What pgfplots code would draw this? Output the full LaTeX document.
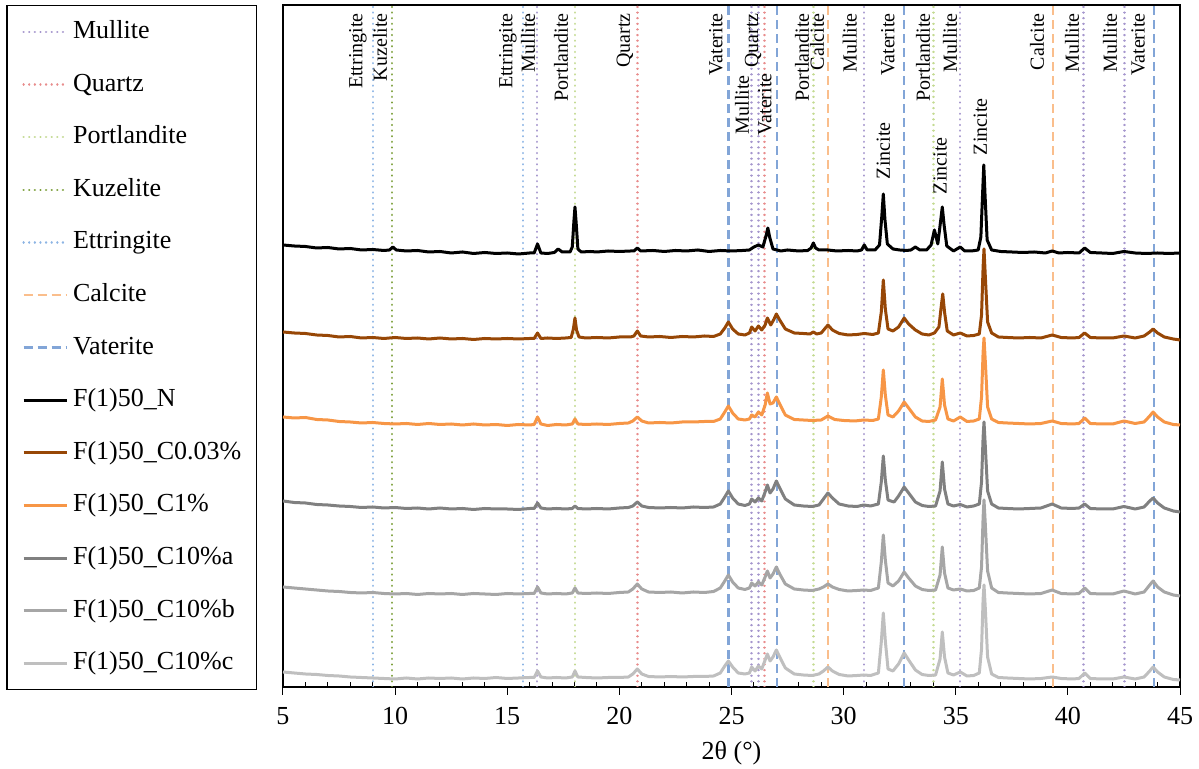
\documentclass[border=0pt]{standalone}
\usepackage{fontspec}
\setmainfont{Liberation Serif}
\usepackage{pgfplots}
\pgfplotsset{compat=1.18}
\definecolor{cMul}{RGB}{165,150,205}
\definecolor{cQua}{RGB}{232,140,140}
\definecolor{cPor}{RGB}{195,218,145}
\definecolor{cKuz}{RGB}{125,160,60}
\definecolor{cEtt}{RGB}{140,180,228}
\definecolor{cCal}{RGB}{250,190,140}
\definecolor{cVat}{RGB}{130,165,215}
\definecolor{cN}{RGB}{0,0,0}
\definecolor{cB}{RGB}{151,71,6}
\definecolor{cO}{RGB}{247,150,70}
\definecolor{cGa}{RGB}{128,128,128}
\definecolor{cGb}{RGB}{166,166,166}
\definecolor{cGc}{RGB}{191,191,191}
\tikzset{
  dotl/.style={line width=1.2pt, line cap=round, dash pattern=on 0.01pt off 2.8pt},
  dashl/.style={line width=1.2pt, dash pattern=on 4.5pt off 2.5pt},
  xrd/.style={line width=1.5pt, line join=round},
  lab/.style={rotate=90, anchor=east, inner sep=0pt, font=\fontsize{10}{12}\selectfont}
}
\begin{document}
\begin{tikzpicture}
\begin{axis}[
  scale only axis, width=448.5pt, height=341pt,
  xmin=5, xmax=45, ymin=0, ymax=682,
  xtick={5,10,...,45}, minor x tick num=4,
  ytick=\empty,
  xtick pos=lower, tick align=inside,
  major tick length=4pt, minor tick length=2.5pt,
  tick style={black, line width=0.5pt},
  major x tick style={yshift=-4pt},
  axis line style={line width=0.6pt},
  xlabel={2θ (°)},
  label style={font=\fontsize{13}{15}\selectfont},
  xlabel style={yshift=-1.5pt},
  ticklabel style={font=\fontsize{13}{15}\selectfont},
  xticklabel style={yshift=-6.5pt},
  /pgf/number format/assume math mode=true,
  unbounded coords=jump,
  no markers,
  legend cell align=left,
  legend image code/.code={\draw[#1] (0pt,0pt) -- (21.5pt,0pt);},
  legend style={at={(-0.029,1)}, anchor=north east, draw=black, line width=0.6pt,
    font=\fontsize{13}{15}\selectfont, inner xsep=7.5pt, inner ysep=7pt,
    row sep=13.8pt, column sep=2.5pt,
    nodes={inner sep=0pt, text height=9.5pt, text depth=3pt}},
]
% reference lines
\addplot[cMul, dotl] coordinates {(16.33,0) (16.33,682) (16.33,nan) (25.89,0) (25.89,682) (25.89,nan) (26.20,0) (26.20,682) (26.20,nan) (30.92,0) (30.92,682) (30.92,nan) (35.19,0) (35.19,682) (35.19,nan) (40.70,0) (40.70,682) (40.70,nan) (42.52,0) (42.52,682)};
\addlegendentry{Mullite}
\addplot[cQua, dotl] coordinates {(20.81,0) (20.81,682) (20.81,nan) (26.48,0) (26.48,682)};
\addlegendentry{Quartz}
\addplot[cPor, dotl] coordinates {(18.02,0) (18.02,682) (18.02,nan) (28.66,0) (28.66,682) (28.66,nan) (34.01,0) (34.01,682)};
\addlegendentry{Portlandite}
\addplot[cKuz, dotl] coordinates {(9.87,0) (9.87,682)};
\addlegendentry{Kuzelite}
\addplot[cEtt, dotl] coordinates {(9.02,0) (9.02,682) (9.02,nan) (15.71,0) (15.71,682)};
\addlegendentry{Ettringite}
\addplot[cCal, dashl] coordinates {(29.30,0) (29.30,682) (29.30,nan) (39.34,0) (39.34,682)};
\addlegendentry{Calcite}
\addplot[cVat, dashl] coordinates {(24.86,0) (24.86,682) (24.86,nan) (27.04,0) (27.04,682) (27.04,nan) (32.70,0) (32.70,682) (32.70,nan) (43.83,0) (43.83,682)};
\addlegendentry{Vaterite}
% F(1)50_N
\addplot[cN, xrd] coordinates {(5.0,442) (5.5,441) (6.0,440.5) (6.5,439) (7.0,439.5) (7.5,438) (8.0,438.5) (8.5,437) (9.0,437.5) (9.5,436.5) (9.75,437) (9.9,440) (10.05,437) (10.5,436) (11.0,436.5) (11.5,435) (12.0,435.5) (12.5,434) (13.0,435) (13.5,433.5) (14.0,434.5) (14.5,433.5) (15.0,434) (15.5,433) (16.0,434) (16.2,434) (16.35,443) (16.5,434) (16.8,433.5) (17.1,434.5) (17.27,438) (17.45,435) (17.8,435) (17.9,440) (17.97,465) (18.02,480) (18.08,462) (18.15,438) (18.3,435) (18.7,435.5) (19.0,435) (19.5,436) (20.0,435.5) (20.5,436) (20.65,436) (20.8,439) (20.95,436) (21.5,436.5) (22.0,435.5) (22.5,436.5) (23.0,436) (23.5,437) (24.0,435.5) (24.5,436.5) (25.0,436) (25.5,436.5) (25.8,437) (26.0,440) (26.2,442) (26.4,440) (26.55,452) (26.62,459) (26.7,450) (26.85,438) (27.2,436) (27.5,437) (28.0,436) (28.4,436.5) (28.55,439) (28.65,444) (28.75,439) (28.9,437) (29.3,437) (29.7,436) (30.2,436.5) (30.6,436) (30.8,437) (30.92,442) (31.05,437) (31.4,437) (31.6,442) (31.7,470) (31.77,493) (31.84,468) (31.95,443) (32.2,438) (32.5,437) (32.8,436.5) (33.0,437) (33.2,440) (33.4,437) (33.7,437) (33.9,442) (34.05,457) (34.2,443) (34.32,465) (34.4,480) (34.48,462) (34.6,441) (34.9,436) (35.2,440) (35.4,436) (35.7,436) (36.0,437) (36.12,450) (36.2,495) (36.25,522) (36.31,490) (36.4,447) (36.6,437) (37.0,435.5) (37.5,435) (38.0,434.5) (38.5,435) (39.0,434) (39.3,436) (39.6,434) (40.0,434.5) (40.5,434) (40.75,439) (41.0,434.5) (41.5,434) (42.0,433.5) (42.5,435.5) (43.0,434) (43.5,433.5) (44.0,434) (44.5,433.5) (45.0,434)};
\addlegendentry{F(1)50\_N}
% F(1)50_C0.03%
\addplot[cB, xrd] coordinates {(5.0,355) (5.5,354) (6.0,353.5) (6.5,352) (7.0,351.5) (7.5,350) (8.0,350.5) (8.5,349) (9.0,349.5) (9.5,348.5) (10.0,349.5) (10.5,348.5) (11.0,349) (11.5,348) (12.0,349) (12.5,348) (13.0,348.5) (13.5,347.5) (14.0,348.5) (14.5,348) (15.0,348.5) (15.5,348) (16.0,348.5) (16.2,348.5) (16.35,354) (16.5,348.5) (16.8,349) (17.2,348.5) (17.6,349) (17.85,349.5) (17.95,358) (18.02,369) (18.09,357) (18.2,350) (18.5,349) (19.0,349.5) (19.5,349) (20.0,350) (20.5,350) (20.65,351) (20.8,356) (20.95,351) (21.3,350) (21.8,350.5) (22.3,349.5) (22.8,350.5) (23.3,350) (23.8,351) (24.2,350.5) (24.5,353) (24.7,359) (24.86,365) (25.05,358) (25.3,353) (25.6,352) (25.8,354) (25.9,360) (26.05,356) (26.2,361) (26.35,357) (26.5,362) (26.6,369) (26.75,362) (26.9,368) (27.0,373) (27.15,367) (27.4,358) (27.8,354) (28.2,353.5) (28.5,353) (28.65,355) (28.8,353) (29.0,354) (29.15,358) (29.3,362) (29.5,357) (29.8,353.5) (30.2,352) (30.6,352.5) (30.92,353.5) (31.3,352.5) (31.55,354) (31.68,375) (31.77,407) (31.86,378) (31.98,358) (32.2,356) (32.45,360) (32.7,369) (32.9,363) (33.2,357) (33.5,353) (33.8,352) (34.05,354) (34.25,360) (34.35,380) (34.42,393) (34.5,375) (34.62,356) (34.9,352) (35.2,354) (35.5,351) (35.8,351.5) (36.05,353) (36.15,372) (36.22,420) (36.26,438) (36.32,410) (36.42,365) (36.6,354) (36.9,350) (37.3,349.5) (37.8,349) (38.3,349.5) (38.8,349) (39.3,352) (39.7,349.5) (40.2,349) (40.5,349.5) (40.75,354) (41.0,349.5) (41.5,349) (42.0,349) (42.5,351) (43.0,349) (43.4,351) (43.65,355) (43.8,358) (44.0,354) (44.3,350) (44.7,348) (45.0,347)};
\addlegendentry{F(1)50\_C0.03\%}
% F(1)50_C1%
\addplot[cO, xrd] coordinates {(5.0,270) (5.5,269) (6.0,269.5) (6.5,267.5) (7.0,267) (7.5,265.5) (8.0,265) (8.5,264) (9.0,264.5) (9.5,263.5) (10.0,263) (10.5,263.5) (11.0,262.5) (11.5,263.5) (12.0,262.5) (12.5,263) (13.0,262) (13.5,263) (14.0,262) (14.5,262.5) (15.0,261.5) (15.5,262.5) (16.0,262) (16.2,262.5) (16.35,270) (16.5,263) (16.8,261.5) (17.2,262.5) (17.6,262) (17.9,263) (18.02,268) (18.15,263) (18.5,262.5) (19.0,263) (19.5,262.5) (20.0,263.5) (20.4,264) (20.6,266) (20.8,270) (21.0,266) (21.3,264) (21.8,264.5) (22.3,264) (22.8,265) (23.3,265) (23.8,265.5) (24.2,265.5) (24.5,268) (24.7,275) (24.86,281) (25.05,274) (25.3,268) (25.6,267) (25.8,268) (25.9,272) (26.05,270) (26.2,275) (26.35,272) (26.5,282) (26.6,294) (26.72,283) (26.85,284) (27.0,290) (27.15,283) (27.4,272) (27.8,267.5) (28.2,267) (28.6,266.5) (29.0,267) (29.3,271) (29.6,267.5) (30.0,266.5) (30.5,266) (30.9,267) (31.3,266.5) (31.55,268) (31.68,290) (31.77,317) (31.86,292) (31.98,272) (32.2,270) (32.45,276) (32.7,285) (32.9,279) (33.2,270) (33.5,266) (33.8,265.5) (34.1,267) (34.3,280) (34.4,308) (34.5,282) (34.65,268) (34.9,266) (35.2,270) (35.5,265.5) (35.8,266) (36.05,268) (36.15,290) (36.22,335) (36.26,349) (36.32,325) (36.42,280) (36.6,268) (36.9,264.5) (37.3,264) (37.8,263.5) (38.3,263) (38.8,263.5) (39.3,266) (39.7,263.5) (40.2,263) (40.5,263.5) (40.75,269) (41.0,263.5) (41.5,263) (42.0,263) (42.5,266) (43.0,263.5) (43.4,265) (43.65,271) (43.8,275) (44.0,270) (44.3,265) (44.7,262.5) (45.0,262)};
\addlegendentry{F(1)50\_C1\%}
% F(1)50_C10%a
\addplot[cGa, xrd] coordinates {(5.0,186) (5.5,184.5) (6.0,184) (6.5,182.5) (7.0,182) (7.5,181) (8.0,180.5) (8.5,179.5) (9.0,180) (9.5,179) (10.0,179.5) (10.5,178.5) (11.0,179) (11.5,178) (12.0,179) (12.5,178) (13.0,178.5) (13.5,177.5) (14.0,178.5) (14.5,178) (15.0,178) (15.5,177.5) (16.0,178.5) (16.2,178.5) (16.35,184) (16.5,179) (16.8,178) (17.2,178.5) (17.6,178) (17.9,178.5) (18.02,181) (18.15,178.5) (18.5,178) (19.0,178.5) (19.5,178) (20.0,179) (20.4,179.5) (20.6,181) (20.8,185) (21.0,181) (21.3,179.5) (21.8,179) (22.3,179.5) (22.8,179) (23.3,180) (23.8,179.5) (24.2,180) (24.5,183) (24.7,190) (24.86,196) (25.05,189) (25.3,183) (25.6,181.5) (25.8,183) (25.9,188) (26.05,185) (26.2,189) (26.35,186) (26.5,195) (26.6,202) (26.72,194) (26.85,198) (27.0,206) (27.15,199) (27.4,188) (27.8,182) (28.2,181) (28.6,180.5) (28.9,182) (29.1,188) (29.3,194) (29.5,189) (29.8,183) (30.2,181) (30.6,180.5) (30.9,182) (31.2,181) (31.55,183) (31.68,205) (31.77,231) (31.86,207) (31.98,187) (32.1,186) (32.25,185) (32.45,191) (32.7,200) (32.9,194) (33.2,185) (33.5,181.5) (33.8,180.5) (34.1,181) (34.3,196) (34.4,225) (34.5,198) (34.65,183) (34.9,181) (35.2,182.5) (35.5,180) (35.8,181) (36.05,183) (36.15,205) (36.22,250) (36.26,265) (36.32,240) (36.42,196) (36.6,183) (36.9,179) (37.3,178.5) (37.8,178) (38.3,178.5) (38.8,179) (39.3,183) (39.7,179) (40.2,178.5) (40.5,179) (40.75,183) (41.0,178.5) (41.5,178) (42.0,178) (42.5,180.5) (43.0,178) (43.4,180) (43.65,186) (43.8,189) (44.0,184) (44.3,179) (44.7,176) (45.0,175)};
\addlegendentry{F(1)50\_C10\%a}
% F(1)50_C10%b
\addplot[cGb, xrd] coordinates {(5.0,100) (5.5,99) (6.0,98) (6.5,97) (7.0,96) (7.5,95.5) (8.0,94.5) (8.5,94) (9.0,94.5) (9.5,93.5) (10.0,93) (10.5,93.5) (11.0,92.5) (11.5,93.5) (12.0,93) (12.5,93.5) (13.0,92.5) (13.5,93.5) (14.0,93) (14.5,92.5) (15.0,93.5) (15.5,93) (16.0,93.5) (16.2,93.5) (16.35,100) (16.5,94) (16.8,93) (17.2,93.5) (17.6,93) (17.9,94) (18.02,99) (18.15,94) (18.5,93.5) (19.0,94) (19.5,93.5) (20.0,94.5) (20.4,95) (20.6,98) (20.8,103) (21.0,98) (21.3,95) (21.8,94.5) (22.3,95) (22.8,94) (23.3,95) (23.8,94.5) (24.2,95.5) (24.5,99) (24.7,106) (24.86,112) (25.05,105) (25.3,99) (25.6,97.5) (25.8,99) (25.9,104) (26.05,101) (26.2,105) (26.35,102) (26.5,110) (26.6,116) (26.72,109) (26.85,113) (27.0,120) (27.15,113) (27.4,103) (27.8,98) (28.2,97) (28.6,96.5) (28.9,98) (29.1,100) (29.3,103) (29.5,100) (29.8,97.5) (30.2,96) (30.6,96.5) (30.9,97) (31.2,96.5) (31.55,99) (31.68,125) (31.77,152) (31.86,127) (31.98,104) (32.2,101) (32.45,106) (32.7,115) (32.9,109) (33.2,101) (33.5,97.5) (33.8,96.5) (34.1,97) (34.3,112) (34.4,140) (34.5,114) (34.65,99) (34.9,97) (35.2,98) (35.5,96) (35.8,96.5) (36.05,99) (36.15,120) (36.22,170) (36.26,187) (36.32,162) (36.42,116) (36.6,99) (36.9,94.5) (37.3,94) (37.8,93.5) (38.3,93) (38.8,93.5) (39.3,97) (39.7,93.5) (40.2,93) (40.5,93.5) (40.75,99) (41.0,93.5) (41.5,93) (42.0,93) (42.5,96) (43.0,93) (43.4,95) (43.65,102) (43.8,106) (44.0,100) (44.3,95) (44.7,92) (45.0,91)};
\addlegendentry{F(1)50\_C10\%b}
% F(1)50_C10%c
\addplot[cGc, xrd] coordinates {(5.0,15) (5.5,14) (6.0,13) (6.5,12.5) (7.0,11.5) (7.5,11) (8.0,10) (8.5,9.5) (9.0,9) (9.5,8.5) (10.0,8) (10.5,9) (11.0,8) (11.5,9) (12.0,8.5) (12.5,9) (13.0,8) (13.5,9) (14.0,8.5) (14.5,9.5) (15.0,8.5) (15.5,9) (16.0,9.5) (16.2,9.5) (16.35,16) (16.5,10) (16.8,9) (17.2,9.5) (17.6,9) (17.9,10) (18.02,16) (18.15,10) (18.5,9.5) (19.0,9) (19.5,9.5) (20.0,9.5) (20.4,10) (20.6,13) (20.8,18) (21.0,13) (21.3,10.5) (21.8,10) (22.3,10.5) (22.8,10) (23.3,10.5) (23.8,10.5) (24.2,11) (24.5,14) (24.7,21) (24.86,26) (25.05,20) (25.3,14) (25.6,13) (25.8,14) (25.9,20) (26.05,16) (26.2,21) (26.35,18) (26.5,27) (26.6,33) (26.72,26) (26.85,30) (27.0,37) (27.15,30) (27.4,19) (27.8,13) (28.2,12) (28.6,11.5) (28.9,13) (29.1,16) (29.3,20) (29.5,16) (29.8,12.5) (30.2,11) (30.6,11.5) (30.9,12) (31.2,11.5) (31.55,14) (31.68,45) (31.77,74) (31.86,46) (31.98,18) (32.2,16) (32.45,23) (32.7,34) (32.9,27) (33.2,17) (33.5,12.5) (33.8,11.5) (34.1,12) (34.3,28) (34.4,55) (34.5,30) (34.65,14) (34.9,12) (35.2,15) (35.5,11) (35.8,11.5) (36.05,14) (36.15,38) (36.22,88) (36.26,102) (36.32,78) (36.42,30) (36.6,13) (36.9,9.5) (37.3,9) (37.8,8.5) (38.3,8) (38.8,8.5) (39.3,10) (39.7,8.5) (40.2,8) (40.5,8.5) (40.75,14) (41.0,8.5) (41.5,8) (42.0,8) (42.5,10) (43.0,8) (43.4,10) (43.65,16) (43.8,20) (44.0,15) (44.3,10) (44.7,7.5) (45.0,7)};
\addlegendentry{F(1)50\_C10\%c}
% phase labels
\node[lab] at (axis cs:8.34,674) {Ettringite};
\node[lab] at (axis cs:9.33,674) {Kuzelite};
\node[lab] at (axis cs:15.03,674) {Ettringite};
\node[lab] at (axis cs:15.93,674) {Mullite};
\node[lab] at (axis cs:17.40,674) {Portlandite};
\node[lab] at (axis cs:20.25,674) {Quartz};
\node[lab] at (axis cs:24.31,674) {Vaterite};
\node[lab] at (axis cs:25.47,612) {Mullite};
\node[lab] at (axis cs:25.96,674) {Quartz};
\node[lab] at (axis cs:26.49,614) {Vaterite};
\node[lab] at (axis cs:28.14,674) {Portlandite};
\node[lab] at (axis cs:28.81,674) {Calcite};
\node[lab] at (axis cs:30.28,674) {Mullite};
\node[lab] at (axis cs:31.98,674) {Vaterite};
\node[lab] at (axis cs:33.54,674) {Portlandite};
\node[lab] at (axis cs:34.74,674) {Mullite};
\node[lab] at (axis cs:38.62,674) {Calcite};
\node[lab] at (axis cs:40.18,674) {Mullite};
\node[lab] at (axis cs:41.88,674) {Mullite};
\node[lab] at (axis cs:43.13,674) {Vaterite};
\node[lab] at (axis cs:31.77,565) {Zincite};
\node[lab] at (axis cs:34.30,550) {Zincite};
\node[lab] at (axis cs:36.10,589) {Zincite};
\end{axis}
\pgfresetboundingbox
\path (current axis.south west) ++(-141.5pt,-41pt) rectangle ++(599.5pt,384.5pt);
\end{tikzpicture}
\end{document}
